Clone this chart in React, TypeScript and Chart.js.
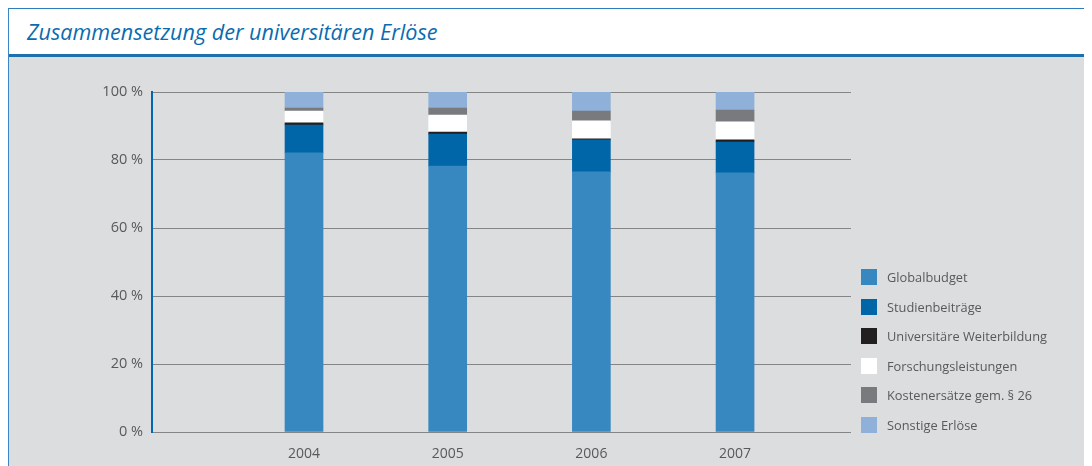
import React, { useEffect, useRef } from "react";
import { Chart, registerables } from "chart.js";

Chart.register(...registerables);

const years = [2004, 2005, 2006, 2007];
const seriesNames = [
  "Globalbudget",
  "Studienbeiträge",
  "Universitäre Weiterbildung",
  "Forschungsleistungen",
  "Kostenersätze gem. § 26",
  "Sonstige Erlöse",
];
const globalbudget = [82.1, 78.2, 76.5, 76.2];
const studienbeitraege = [8.2, 9.4, 9.4, 9.1];
const weiterbildung = [0.6, 0.6, 0.3, 0.6];
const forschung = [3.5, 5.0, 5.3, 5.3];
const kostenersaetze = [0.9, 2.1, 2.9, 3.5];
const sonstige = [4.6, 4.6, 5.5, 5.2];
const yTicks = [0, 20, 40, 60, 80, 100];
const colors = ["#3787c0", "#0066a8", "#231f20", "#ffffff", "#797a7e", "#8fb0d8"];

const TEXT = "#58595b";
const FONT = "'Open Sans', sans-serif";

export default function App() {
  const ref = useRef<HTMLCanvasElement | null>(null);

  useEffect(() => {
    if (!ref.current) return;
    const values = [globalbudget, studienbeitraege, weiterbildung, forschung, kostenersaetze, sonstige];
    const chart = new Chart(ref.current, {
      type: "bar",
      data: {
        datasets: values.map((vals, i) => ({
          label: seriesNames[i],
          data: vals.map((v, j) => ({ x: years[j], y: v })),
          backgroundColor: colors[i],
          borderWidth: 0,
          barThickness: 38,
        })),
      },
      options: {
        animation: false,
        responsive: false,
        maintainAspectRatio: false,
        layout: { padding: { top: 35, right: 241, left: 0, bottom: 0 } },
        plugins: { legend: { display: false }, tooltip: { enabled: false }, title: { display: false } },
        scales: {
          x: {
            type: "linear",
            stacked: true,
            offset: false,
            min: 2002.942,
            max: 2007.807,
            grid: { display: false, offset: false },
            border: { display: false },
            afterBuildTicks: (scale: any) => {
              scale.ticks = years.map((v) => ({ value: v }));
            },
            afterFit: (scale: any) => {
              scale.height = 34;
            },
            ticks: {
              autoSkip: false,
              maxRotation: 0,
              padding: 6,
              color: TEXT,
              font: { family: FONT, size: 14 },
              callback: (v: any) => String(v),
            },
          },
          y: {
            stacked: true,
            min: 0,
            max: 100,
            afterBuildTicks: (scale: any) => {
              scale.ticks = yTicks.map((v) => ({ value: v }));
            },
            afterFit: (scale: any) => {
              scale.width = 143;
            },
            grid: { color: "#858585", lineWidth: 1, drawTicks: false },
            border: { color: "#0066b3", width: 2 },
            ticks: {
              padding: 9,
              color: TEXT,
              font: { family: FONT, size: 14.5 },
              callback: (v: any) => `${v} %`,
            },
          },
        },
      },
    });
    return () => chart.destroy();
  }, []);

  return (
    <div
      style={{
        width: 1083,
        height: 457,
        borderTop: "1px solid #2d7cc0",
        borderLeft: "1px solid #3b86c6",
        position: "relative",
        fontFamily: FONT,
      }}
    >
      <div
        style={{
          height: 45,
          background: "#ffffff",
          borderBottom: "3px solid #1d6fad",
          paddingLeft: 18,
          lineHeight: "45px",
          fontSize: 21.6,
          fontStyle: "italic",
          color: "#0a6cb0",
          whiteSpace: "nowrap",
        }}
      >
        Zusammensetzung der universitären Erlöse
      </div>
      <div style={{ position: "relative", width: 1083, height: 409, background: "#dcdddf" }}>
        <canvas ref={ref} width={1083} height={409} style={{ display: "block" }} />
        <div style={{ position: "absolute", left: 852, top: 205.2 }}>
          {seriesNames.map((name, i) => (
            <div key={name} style={{ display: "flex", alignItems: "center", height: 29.6 }}>
              <span style={{ width: 16, height: 16, background: colors[i], display: "inline-block", marginRight: 10 }} />
              <span style={{ fontSize: 12.8, color: TEXT, whiteSpace: "nowrap" }}>{name}</span>
            </div>
          ))}
        </div>
      </div>
    </div>
  );
}
